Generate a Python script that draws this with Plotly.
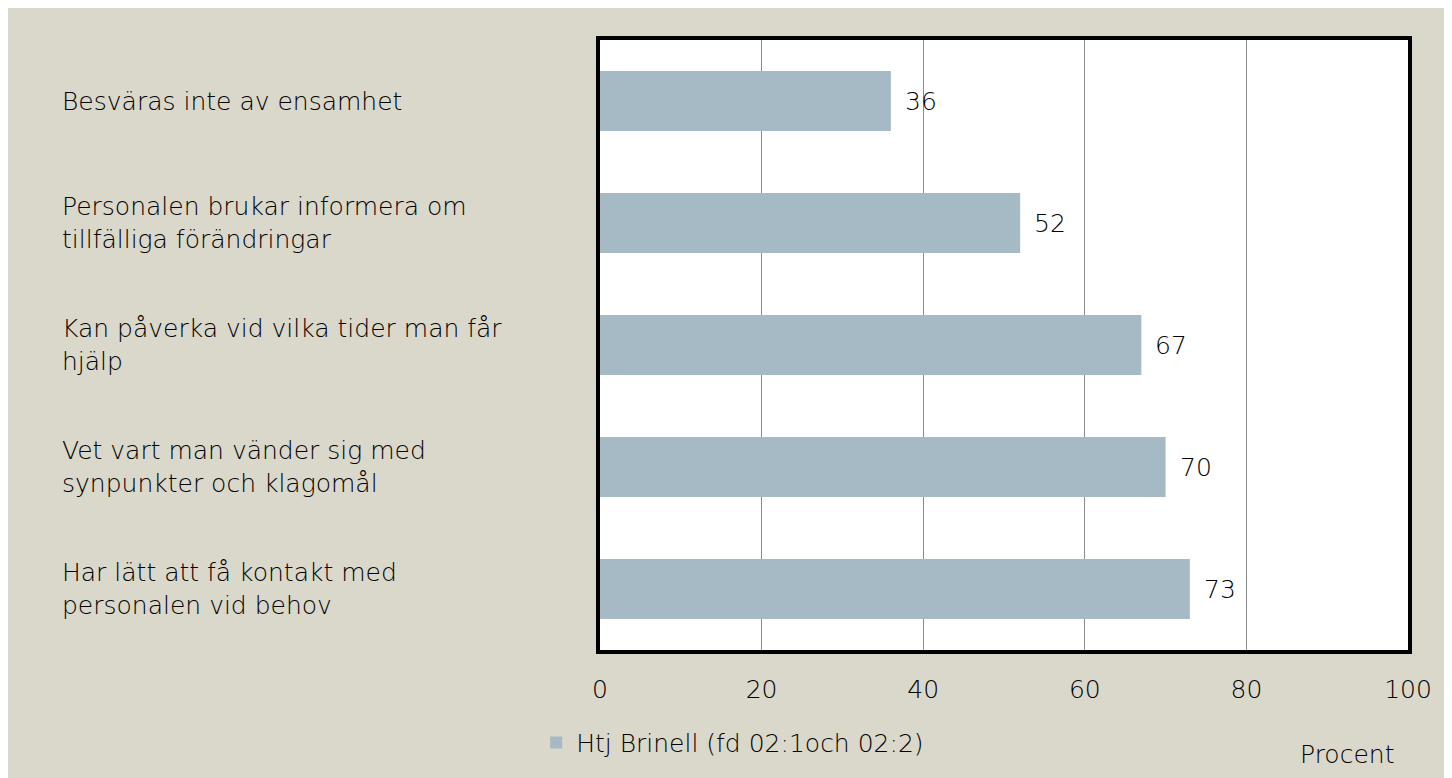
import plotly.graph_objects as go

# Survey items, top to bottom, and their share in percent
categories = [
    "Besväras inte av ensamhet",
    "Personalen brukar informera om<br>tillfälliga förändringar",
    "Kan påverka vid vilka tider man får<br>hjälp",
    "Vet vart man vänder sig med<br>synpunkter och klagomål",
    "Har lätt att få kontakt med<br>personalen vid behov",
]
values = [36, 52, 67, 70, 73]
series_name = "Htj Brinell (fd 02:1och 02:2)"
x_ticks = [0, 20, 40, 60, 80, 100]

BG = "#DAD7CB"
BAR = "#A6BAC6"
FONT = "DejaVu Sans"

fig = go.Figure()
fig.add_trace(go.Bar(
    y=categories, x=values, orientation="h", name=series_name,
    marker=dict(color=BAR, line=dict(width=0)),
    showlegend=True,
))

# value labels next to the bars
for cat, v in zip(categories, values):
    fig.add_annotation(x=v, y=cat, text=str(v), showarrow=False,
                       xanchor="left", xshift=12, font=dict(size=25, color="#000"))

# left aligned category labels
for cat in categories:
    fig.add_annotation(x=-0.668, xref="paper", y=cat, text=cat, showarrow=False,
                       xanchor="left", align="left", yanchor="middle",
                       font=dict(size=25, color="#000"))

# axis title placed under the right end
fig.add_annotation(x=0.9245, xref="paper", y=-0.172, yref="paper", text="Procent",
                   showarrow=False, xanchor="center", yanchor="middle",
                   font=dict(size=25, color="#000"))

fig.update_layout(
    width=1452, height=778,
    paper_bgcolor=BG, plot_bgcolor="white",
    margin=dict(l=592, r=52, t=32, b=136),
    font=dict(family=FONT, size=25, color="#000", weight=300),
    bargap=0.51,
    legend=dict(orientation="h", x=-0.079, y=-0.152, xanchor="left", yanchor="middle",
                bgcolor="rgba(0,0,0,0)", font=dict(size=25), itemwidth=30),
)

fig.update_xaxes(range=[0, 100], tickvals=x_ticks, showgrid=True, gridcolor="#8C8C8C",
                 gridwidth=1, showline=True, linecolor="black", linewidth=4, mirror=True,
                 zeroline=False, ticks="", ticklabelstandoff=14,
                 tickfont=dict(size=25))
fig.update_yaxes(autorange="reversed", showticklabels=False, showline=True,
                 linecolor="black", linewidth=4, mirror=True, ticks="")

fig.write_html("out.html")
